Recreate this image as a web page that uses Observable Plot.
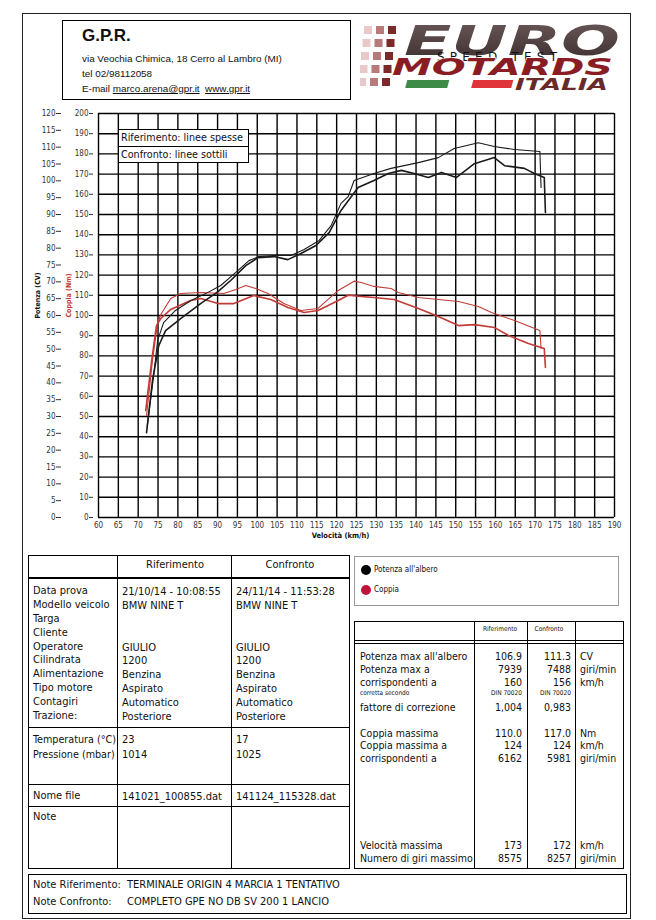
<!DOCTYPE html>
<html><head><meta charset="utf-8">
<script src="https://cdn.jsdelivr.net/npm/d3@7"></script>
<script src="https://cdn.jsdelivr.net/npm/@observablehq/plot@0.6"></script>
<style>
body{margin:0;background:#fff;}
#page{position:relative;width:656px;height:920px;overflow:hidden;font-family:"DejaVu Sans Condensed","DejaVu Sans",sans-serif;color:#111;}
.a{position:absolute;white-space:nowrap;}
.box{position:absolute;box-sizing:border-box;}
</style></head><body><div id="page"></div>
<script>
// ---------------- DATA ----------------
const speedTicks = d3.range(60, 191, 5);          // km/h
const torqueTicks = d3.range(0, 201, 10);         // Nm
const powerTicks = d3.range(0, 121, 5);           // CV

// Riferimento (linee spesse)
const refPowerSpeed = [72.1,73.6,75.2,76.9,80.7,85.8,89.8,93.3,97.1,100.2,104.2,107.7,111.0,114.8,118.1,121.1,125.4,129.4,133.0,136.3,139.5,143.1,146.4,150.2,154.7,159.7,162.3,167.3,169.8,172.3,172.6];
const refPowerCV    = [25.2,40.7,51.1,55.5,59.1,63.6,66.8,70.4,74.8,77.2,77.5,76.6,78.4,80.8,84.6,91.2,98.0,100.1,102.2,103.1,102.2,101.0,102.5,101.0,105.1,106.9,104.5,103.7,102.2,101.0,90.6];
const refTorqueSpeed = [71.9,73.4,74.6,75.7,78.2,83.2,85.8,90.1,94.1,99.1,103.4,107.7,111.8,115.3,120.4,122.9,126.2,129.4,134.5,140.6,145.6,150.7,154.7,159.7,163.3,168.3,172.3,172.6];
const refTorqueNm    = [53.0,77.7,95.0,98.5,103.0,107.4,108.4,105.9,105.9,109.9,107.9,104.0,101.5,102.5,107.4,110.0,109.4,108.9,107.9,103.5,99.5,95.0,95.5,94.1,90.1,86.1,83.7,74.3];

// Confronto (linee sottili)
const confPowerSpeed = [72.3,73.9,74.9,76.4,79.4,83.2,87.0,90.8,94.6,97.9,100.4,104.2,108.5,111.8,115.6,118.6,121.1,122.9,124.4,129.4,133.7,140.6,145.6,149.6,155.7,159.7,164.8,171.2,171.5];
const confPowerCV    = [27.3,42.2,52.6,57.9,61.5,64.4,66.5,68.9,72.8,76.3,77.5,77.8,77.8,79.6,82.3,86.7,93.3,95.3,100.1,102.2,103.7,105.4,106.9,109.6,111.3,110.2,109.3,108.7,98.0];
const confTorqueSpeed = [72.1,73.6,74.9,75.7,78.2,80.7,85.8,91.6,94.6,97.1,99.6,102.7,106.7,111.0,115.3,120.4,124.4,126.2,129.4,133.7,135.5,140.6,145.6,150.7,155.7,159.0,164.8,171.2,171.5];
const confTorqueNm    = [50.5,77.7,96.5,100.5,108.4,110.9,111.4,110.9,112.9,114.9,113.4,110.9,105.9,102.5,103.5,112.4,117.0,116.3,114.4,113.4,111.4,108.9,107.9,106.9,104.5,101.5,97.5,92.6,83.7];

// Tables
const infoLabels = ["Data prova","Modello veicolo","Targa","Cliente","Operatore","Cilindrata","Alimentazione","Tipo motore","Contagiri","Trazione:"];
const infoRef  = ["21/10/14 - 10:08:55","BMW NINE T","","","GIULIO","1200","Benzina","Aspirato","Automatico","Posteriore"];
const infoConf = ["24/11/14 - 11:53:28","BMW NINE T","","","GIULIO","1200","Benzina","Aspirato","Automatico","Posteriore"];
const envLabels = ["Temperatura (°C)","Pressione (mbar)"];
const envRef  = ["23","1014"];
const envConf = ["17","1025"];
const fileRef = "141021_100855.dat", fileConf = "141124_115328.dat";

const perfLabels = ["Potenza max all'albero","Potenza max a","corrispondenti a","corretta secondo","fattore di correzione","Coppia massima","Coppia massima a","corrispondenti a","Velocità massima","Numero di giri massimo"];
const perfRef  = ["106.9","7939","160","DIN 70020","1,004","110.0","124","6162","173","8575"];
const perfConf = ["111.3","7488","156","DIN 70020","0,983","117.0","124","5981","172","8257"];
const perfUnit = ["CV","giri/min","km/h","","","Nm","km/h","giri/min","km/h","giri/min"];

const noteRef  = "TERMINALE ORIGIN 4 MARCIA 1 TENTATIVO";
const noteConf = "COMPLETO GPE NO DB SV 200 1 LANCIO";

// ---------------- HELPERS ----------------
const page = document.getElementById("page");
function T(x, yc, s, o = {}) {
  const size = o.size || 11;
  const d = document.createElement("div");
  d.className = "a";
  if (o.html) d.innerHTML = s; else d.textContent = s;
  d.style.left = x + "px";
  d.style.top = (yc - size * 0.6) + "px";
  d.style.fontSize = size + "px";
  d.style.lineHeight = (size * 1.2) + "px";
  if (o.font) d.style.fontFamily = o.font;
  if (o.weight) d.style.fontWeight = o.weight;
  if (o.color) d.style.color = o.color;
  if (o.align === "r") d.style.transform = "translateX(-100%)";
  if (o.align === "c") d.style.transform = "translateX(-50%)";
  page.appendChild(d);
  return d;
}
function B(x, y, w, h, style = "") {
  const d = document.createElement("div");
  d.className = "box";
  d.style.cssText += `left:${x}px;top:${y}px;width:${w}px;height:${h}px;` + style;
  page.appendChild(d);
  return d;
}
function H(x1, x2, y, t = 1) { B(x1, y, x2 - x1, t, "background:#000;"); }
function V(x, y1, y2, t = 1) { B(x, y1, t, y2 - y1, "background:#000;"); }

// page frame
B(22, 13, 609, 906, "border:1px solid #222;");

// header
B(62, 20, 289, 80, "border:1.5px solid #000;");
const arial = "'Liberation Sans', Arial, sans-serif";
T(82, 36, "G.P.R.", {size: 17, font: arial, weight: "bold"});
T(82, 59, "via Veochia Chimica, 18 Cerro al Lambro (MI)", {size: 9.9, font: arial});
T(82, 74, "tel 02/98112058", {size: 9.9, font: arial});
T(82, 89, 'E-mail <u>marco.arena@gpr.it</u>&nbsp; <u>www.gpr.it</u>', {size: 9.9, font: arial, html: true});

// logo
const logo = document.createElement("div");
logo.className = "a";
logo.style.left = "360px"; logo.style.top = "14px";
logo.innerHTML = `<svg width="270" height="86" viewBox="0 0 270 86">
 <defs><linearGradient id="g1" x1="0" y1="0" x2="0" y2="1"><stop offset="0" stop-color="#6d5a5a"/><stop offset="1" stop-color="#3a2d2d"/></linearGradient></defs>
 ${[0,1,2,3,4].map(r=>[0,1,2].map(c=>`<rect x="${4+c*12-r*1.5}" y="${12+r*13}" width="8" height="8" fill="${["#e8c8c8","#b87a7a","#7a2a2a"][c]}"/>`).join("")).join("")}
 <text x="44" y="41" font-family="DejaVu Sans" font-weight="bold" font-style="italic" font-size="41" textLength="216" lengthAdjust="spacingAndGlyphs" fill="url(#g1)">EURO</text>
 <text x="77" y="47" font-family="DejaVu Sans" font-size="12" textLength="120" lengthAdjust="spacing" fill="#111">SPEED TEST</text>
 <text x="32" y="61" font-family="DejaVu Sans" font-weight="bold" font-style="italic" font-size="23" textLength="221" lengthAdjust="spacingAndGlyphs" fill="#8a1c24" stroke="#fff" stroke-width="0.8" paint-order="stroke">MOTARDS</text>
 <rect x="47" y="66" width="42" height="8" fill="#3d8b47" transform="skewX(-15) translate(18,0)"/>
 <rect x="113" y="66" width="40" height="8" fill="#e0343a" transform="skewX(-15) translate(18,0)"/>
 <text x="155" y="76" font-family="DejaVu Sans" font-weight="bold" font-style="italic" font-size="15" textLength="93" lengthAdjust="spacingAndGlyphs" fill="#6b2a2a">ITALIA</text>
</svg>`;
page.appendChild(logo);

// ---------------- CHART ----------------
const k = 200 / 120; // CV -> Nm grid units (both axes share the frame)
const mk = (xs, ys) => xs.map((v, i) => ({v, y: ys[i]}));
const refP = mk(refPowerSpeed, refPowerCV), confP = mk(confPowerSpeed, confPowerCV);
const refT = mk(refTorqueSpeed, refTorqueNm), confT = mk(confTorqueSpeed, confTorqueNm);
const red = "#c23a36";

const chart = Plot.plot({
  width: 620, height: 445,
  marginLeft: 78, marginRight: 26, marginTop: 8, marginBottom: 33,
  x: {domain: [60, 190]},
  y: {domain: [0, 200]},
  style: {fontFamily: "'DejaVu Sans Condensed', sans-serif", fontSize: "8px", color: "#333", background: "transparent", overflow: "visible"},
  marks: [
    Plot.gridX(speedTicks, {stroke: "#000", strokeOpacity: 1, strokeWidth: 1.4}),
    Plot.gridY(torqueTicks, {stroke: "#000", strokeOpacity: 1, strokeWidth: 1.4}),
    Plot.axisX(speedTicks, {tickSize: 0, tickPadding: 5, label: null}),
    Plot.axisY(torqueTicks, {tickSize: 4, dx: -5, tickPadding: 1, label: null}),
    Plot.axisY(powerTicks.map(c => c * k), {tickSize: 5, dx: -37, tickPadding: 1, tickFormat: d => Math.round(d / k), label: null}),
    Plot.text(["Potenza (CV)"], {frameAnchor: "left", dx: -61, dy: 3, rotate: -90, fontWeight: "bold", fontSize: 7, fill: "#111"}),
    Plot.text(["Coppia (Nm)"], {frameAnchor: "left", dx: -30, dy: 2, rotate: -90, fontWeight: "bold", fontSize: 7, fill: red}),
    Plot.text(["Velocità (km/h)"], {frameAnchor: "bottom", dx: -16, dy: 20, fontWeight: "bold", fontSize: 7.5, fill: "#111"}),
    Plot.line(refT, {x: "v", y: "y", stroke: red, strokeWidth: 1.6}),
    Plot.line(confT, {x: "v", y: "y", stroke: red, strokeWidth: 1.1}),
    Plot.line(refP, {x: "v", y: d => d.y * k, stroke: "#1a1a1a", strokeWidth: 1.6}),
    Plot.line(confP, {x: "v", y: d => d.y * k, stroke: "#1a1a1a", strokeWidth: 1.1})
  ]
});
const cw = document.createElement("div");
cw.className = "a"; cw.style.left = "20px"; cw.style.top = "105px";
cw.appendChild(chart);
page.appendChild(cw);

// in-chart legend
B(118, 129, 131, 34, "border:1px solid #000;background:#fff;");
H(118, 249, 146, 1);
T(121, 138, "Riferimento: linee spesse", {size: 10.7});
T(121, 155, "Confronto: linee sottili", {size: 10.7});

// ---------------- LEFT TABLE ----------------
B(28, 555, 322, 314, "border:1px solid #000;");
V(117, 555, 869); V(231, 555, 869);
H(28, 350, 577, 2);
H(28, 350, 727); H(28, 350, 784); H(28, 350, 806);
T(175, 565, "Riferimento", {align: "c"});
T(290, 565, "Confronto", {align: "c"});
infoLabels.forEach((s, i) => {
  const y = 591 + i * 13.8;
  T(33, y, s);
  if (infoRef[i]) T(122, y + 1, infoRef[i]);
  if (infoConf[i]) T(236, y + 1, infoConf[i]);
});
envLabels.forEach((s, i) => {
  const y = 740 + i * 15;
  T(33, y, s, {size: 10.7}); T(122, y, envRef[i]); T(236, y, envConf[i]);
});
T(33, 796, "Nome file"); T(122, 797, fileRef); T(236, 797, fileConf);
T(33, 817, "Note");

// ---------------- SERIES LEGEND ----------------
B(354, 556, 265, 50, "border:1px solid #999;");
B(361, 565, 10, 10, "border-radius:50%;background:#000;");
B(361, 585, 10, 10, "border-radius:50%;background:#c0143c;");
T(374, 570, "Potenza all'albero", {size: 8});
T(374, 590, "Coppia", {size: 8});

// ---------------- RIGHT TABLE ----------------
B(354, 621, 270, 248, "border:1px solid #000;");
V(474, 621, 869); V(527, 621, 869); V(575, 621, 869);
H(354, 624, 640); H(354, 624, 643);
T(500, 630, "Riferimento", {size: 6.5, align: "c"});
T(549, 630, "Confronto", {size: 6.5, align: "c"});
const perfY = [656, 669, 682, 694, 707, 733, 745, 758, 845, 858];
perfLabels.forEach((s, i) => {
  const small = i === 3;
  const sz = small ? 6.5 : 10.5;
  const y = perfY[i];
  T(360, y, s, {size: sz});
  T(522, y, perfRef[i], {size: sz, align: "r"});
  T(571, y, perfConf[i], {size: sz, align: "r"});
  if (perfUnit[i]) T(580, y, perfUnit[i], {size: sz});
});

// ---------------- NOTES ----------------
B(28, 874, 599, 40, "border:1.5px solid #000;");
T(33, 885, "Note Riferimento:"); T(127, 885, noteRef);
T(33, 902, "Note Confronto:"); T(127, 902, noteConf);
</script></body></html>
